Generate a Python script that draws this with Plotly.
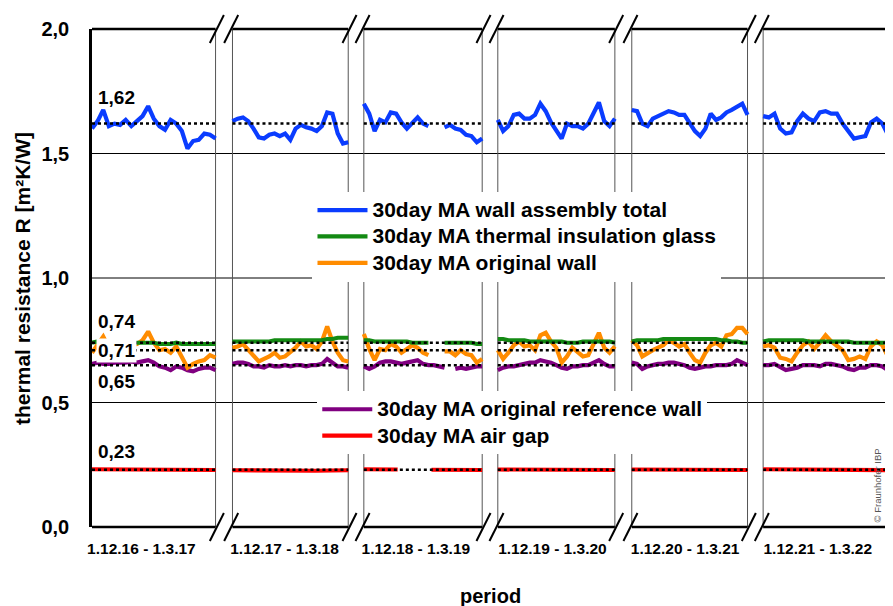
import plotly.graph_objects as go

# winter periods (one panel each)
periods = ["1.12.16 - 1.3.17", "1.12.17 - 1.3.18", "1.12.18 - 1.3.19",
           "1.12.19 - 1.3.20", "1.12.20 - 1.3.21", "1.12.21 - 1.3.22"]

# panel extent on a continuous day axis (breaks between the winters)
panel_start = [0, 108, 209, 312, 415, 516]
panel_end = [95, 197, 300, 402, 504, 612]
label_pos = [38, 148, 249, 354, 456, 558]

# 30 day moving averages, R in m²K/W, read per panel
wall_total = [
    [1.60, 1.63, 1.675, 1.61, 1.62, 1.615, 1.635, 1.61, 1.63, 1.65, 1.69, 1.64,
     1.61, 1.595, 1.635, 1.62, 1.59, 1.52, 1.55, 1.555, 1.58, 1.575, 1.56],
    [1.63, 1.64, 1.645, 1.63, 1.60, 1.565, 1.56, 1.575, 1.58, 1.57, 1.58, 1.555,
     1.60, 1.615, 1.605, 1.60, 1.59, 1.61, 1.665, 1.66, 1.58, 1.54, 1.545],
    [1.70, 1.66, 1.59, 1.635, 1.625, 1.665, 1.66, 1.625, 1.60, 1.625, 1.645, 1.62,
     1.61, None, None, 1.605, 1.615, 1.60, 1.595, 1.575, 1.57, 1.545, 1.56],
    [1.635, 1.59, 1.61, 1.655, 1.66, 1.64, 1.64, 1.655, 1.70, 1.67, 1.625, 1.59,
     1.56, 1.62, 1.61, 1.61, 1.60, 1.62, 1.66, 1.705, 1.63, 1.61, 1.64],
    [1.675, 1.67, 1.62, 1.61, 1.64, 1.65, 1.66, 1.67, 1.665, 1.655, 1.655, 1.62,
     1.59, 1.57, 1.60, 1.66, 1.635, 1.645, 1.665, 1.675, 1.69, 1.70, 1.655],
    [1.65, 1.645, 1.66, 1.60, 1.58, 1.585, 1.63, 1.66, 1.64, 1.63, 1.665, 1.67,
     1.66, 1.66, 1.62, 1.59, 1.56, 1.565, 1.57, 1.625, 1.64, 1.62, 1.575],
]
insulation_glass = [
    [0.74, 0.745, 0.735, 0.74, 0.74, 0.74, 0.74, 0.74, 0.74, 0.74, 0.74, 0.74,
     0.735, 0.735, 0.735, 0.74, 0.735, 0.735, 0.735, 0.735, 0.735, 0.735, 0.735],
    [0.745, 0.745, 0.745, 0.745, 0.745, 0.745, 0.745, 0.745, 0.75, 0.75, 0.75, 0.75,
     0.75, 0.75, 0.75, 0.75, 0.75, 0.75, 0.755, 0.755, 0.76, 0.76, 0.76],
    [0.75, 0.75, 0.745, 0.745, 0.745, 0.745, 0.745, 0.745, 0.745, 0.74, 0.74, 0.74,
     0.74, None, None, 0.74, 0.74, 0.74, 0.74, 0.74, 0.74, 0.735, 0.735],
    [0.755, 0.755, 0.75, 0.75, 0.75, 0.75, 0.745, 0.745, 0.745, 0.745, 0.745, 0.745,
     0.745, 0.74, 0.74, 0.74, 0.745, 0.745, 0.745, 0.745, 0.745, 0.745, 0.74],
    [0.745, 0.75, 0.75, 0.75, 0.75, 0.75, 0.755, 0.755, 0.755, 0.755, 0.755, 0.755,
     0.755, 0.755, 0.755, 0.755, 0.755, 0.75, 0.75, 0.745, 0.745, 0.74, 0.74],
    [0.745, 0.75, 0.75, 0.75, 0.75, 0.75, 0.75, 0.75, 0.745, 0.745, 0.745, 0.745,
     0.745, 0.745, 0.745, 0.745, 0.74, 0.74, 0.74, 0.74, 0.74, 0.74, 0.74],
]
original_wall = [
    [0.70, 0.73, 0.765, 0.72, 0.71, 0.72, 0.73, 0.73, 0.735, 0.75, 0.785, 0.74,
     0.71, 0.715, 0.70, 0.725, 0.68, 0.64, 0.655, 0.665, 0.67, 0.69, 0.68],
    [0.72, 0.725, 0.735, 0.71, 0.69, 0.665, 0.675, 0.685, 0.70, 0.68, 0.685, 0.70,
     0.72, 0.745, 0.725, 0.73, 0.715, 0.745, 0.805, 0.745, 0.70, 0.67, 0.665],
    [0.775, 0.715, 0.67, 0.715, 0.71, 0.735, 0.725, 0.70, 0.715, 0.73, 0.72, 0.70,
     0.69, None, None, 0.705, 0.705, 0.69, 0.71, 0.695, 0.69, 0.66, 0.675],
    [0.71, 0.675, 0.70, 0.73, 0.745, 0.725, 0.73, 0.71, 0.77, 0.78, 0.745, 0.72,
     0.66, 0.685, 0.72, 0.70, 0.685, 0.69, 0.735, 0.78, 0.72, 0.70, 0.725],
    [0.75, 0.73, 0.685, 0.70, 0.71, 0.72, 0.73, 0.75, 0.74, 0.725, 0.735, 0.70,
     0.67, 0.66, 0.70, 0.73, 0.74, 0.725, 0.77, 0.775, 0.80, 0.80, 0.775],
    [0.725, 0.73, 0.72, 0.68, 0.675, 0.665, 0.70, 0.73, 0.745, 0.715, 0.74, 0.77,
     0.745, 0.73, 0.71, 0.67, 0.675, 0.685, 0.675, 0.725, 0.745, 0.73, 0.685],
]
reference_wall = [
    [0.655, 0.66, 0.655, 0.655, 0.66, 0.66, 0.66, 0.665, 0.66, 0.665, 0.67, 0.66,
     0.645, 0.64, 0.63, 0.645, 0.64, 0.63, 0.625, 0.635, 0.64, 0.64, 0.63],
    [0.655, 0.66, 0.66, 0.655, 0.645, 0.645, 0.64, 0.65, 0.645, 0.645, 0.65, 0.645,
     0.65, 0.65, 0.645, 0.65, 0.65, 0.655, 0.675, 0.66, 0.645, 0.645, 0.64],
    [0.645, 0.635, 0.645, 0.66, 0.665, 0.665, 0.66, 0.655, 0.66, 0.665, 0.67, 0.655,
     0.65, 0.65, 0.645, 0.64, None, 0.635, 0.64, 0.635, 0.64, 0.645, 0.645],
    [0.63, 0.64, 0.645, 0.645, 0.65, 0.655, 0.66, 0.66, 0.67, 0.665, 0.66, 0.65,
     0.64, 0.635, 0.645, 0.645, 0.65, 0.65, 0.66, 0.67, 0.655, 0.645, 0.645],
    [0.66, 0.655, 0.635, 0.645, 0.65, 0.655, 0.655, 0.66, 0.66, 0.655, 0.65, 0.64,
     0.635, 0.64, 0.645, 0.645, 0.65, 0.65, 0.65, 0.655, 0.67, 0.66, 0.65],
    [0.65, 0.65, 0.655, 0.64, 0.63, 0.635, 0.64, 0.65, 0.65, 0.65, 0.645, 0.655,
     0.655, 0.65, 0.645, 0.635, 0.63, 0.64, 0.64, 0.65, 0.65, 0.645, 0.63],
]
air_gap = [
    [0.232, 0.232, 0.231, 0.231, 0.23, 0.23, 0.229, 0.229],
    [0.228, 0.227, 0.226, 0.225, 0.225, 0.226, 0.227, 0.228],
    [0.232, 0.232, 0.231, None, 0.23, 0.23, 0.229, 0.229],
    [0.231, 0.231, 0.231, 0.23, 0.23, 0.23, 0.229, 0.229],
    [0.231, 0.231, 0.23, 0.23, 0.23, 0.23, 0.229, 0.229],
    [0.232, 0.232, 0.231, 0.23, 0.23, 0.229, 0.229, 0.228],
]

# long-term means (dotted)
mean_values = [1.62, 0.74, 0.71, 0.65, 0.23]
mean_labels = ["1,62", "0,74", "0,71", "0,65", "0,23"]
label_shift = [26, 21, 0, -16, 18]


def panel_xy(panels):
    xs, ys = [], []
    for k, vals in enumerate(panels):
        n = len(vals)
        w = panel_end[k] - panel_start[k]
        xs += [panel_start[k] + w * i / (n - 1) for i in range(n)] + [None]
        ys += list(vals) + [None]
    return xs, ys


series = [
    # name, data, colour, legend, rank
    ("30day MA air gap", air_gap, "#ff0000", "legend2", 2),
    ("30day MA original reference wall", reference_wall, "#800080", "legend2", 1),
    ("30day MA original wall", original_wall, "#ff8c00", "legend", 3),
    ("30day MA thermal insulation glass", insulation_glass, "#138a13", "legend", 2),
    ("30day MA wall assembly total", wall_total, "#0a3cff", "legend", 1),
]

fig = go.Figure()

for name, data, color, leg, rank in series:
    xs, ys = panel_xy(data)
    fig.add_trace(go.Scatter(
        x=xs, y=ys, mode="lines",
        name='<span style="font-size:21px">%s</span>' % name,
        line=dict(color=color, width=4.2),
        legend=leg, legendrank=rank, connectgaps=False,
    ))

# dotted mean lines per panel
for m in mean_values:
    xs, ys = [], []
    for k in range(len(periods)):
        xs += [panel_start[k], panel_end[k], None]
        ys += [m, m, None]
    fig.add_trace(go.Scatter(x=xs, y=ys, mode="lines", showlegend=False,
                             line=dict(color="black", width=2.5, dash="3px,3px"),
                             hoverinfo="skip"))

shapes = []
# horizontal gridlines
for g in [0.5, 1.0, 1.5]:
    shapes.append(dict(type="line", xref="paper", yref="y", x0=0, x1=1, y0=g, y1=g,
                       line=dict(color="black", width=1), layer="below"))
# panel borders
for k in range(len(periods) - 1):
    for xv in [panel_end[k], panel_start[k + 1]]:
        shapes.append(dict(type="line", xref="x", yref="paper", x0=xv, x1=xv, y0=0, y1=1,
                           line=dict(color="#555555", width=1), layer="below"))
# broken top / bottom axis
for yb in [0, 1]:
    for k in range(len(periods)):
        shapes.append(dict(type="line", xref="x", yref="paper",
                           x0=panel_start[k], x1=panel_end[k], y0=yb, y1=yb,
                           line=dict(color="black", width=2.5)))
    for k in range(len(periods) - 1):
        for c in [panel_end[k] + 1, panel_start[k + 1] - 1]:
            shapes.append(dict(type="line", xref="x", yref="paper",
                               x0=c - 5.4, x1=c + 5.4, y0=yb - 0.028, y1=yb + 0.028,
                               line=dict(color="black", width=2)))

annotations = []
for m, lab, sh in zip(mean_values, mean_labels, label_shift):
    annotations.append(dict(x=19, y=m, xref="x", yref="y", text="<b>%s</b>" % lab,
                            showarrow=False, yshift=sh,
                            bgcolor="white" if sh == 0 else None,
                            font=dict(size=19, color="black")))
annotations.append(dict(x=0.9874, y=0.005, xref="paper", yref="paper",
                        text="© Fraunhofer IBP", showarrow=False, textangle=-90,
                        xanchor="center", yanchor="bottom",
                        font=dict(size=9.5, color="#555555")))
# axis titles
annotations.append(dict(x=-0.088, y=0.5, xref="paper", yref="paper",
                        text="<b>thermal resistance R [m²K/W]</b>", showarrow=False,
                        textangle=-90, xanchor="center", yanchor="middle",
                        font=dict(size=21)))
annotations.append(dict(x=0.5, y=-0.1386, xref="paper", yref="paper",
                        text="<b>period</b>", showarrow=False,
                        xanchor="center", yanchor="middle", font=dict(size=20)))

# page body has an 8px margin, so the figure is shrunk by that much
fig.update_layout(
    width=885, height=598,
    margin=dict(l=84, r=5, t=21, b=79),
    paper_bgcolor="white", plot_bgcolor="white",
    font=dict(family="Liberation Sans, Arial, sans-serif", color="black"),
    shapes=shapes, annotations=annotations,
    showlegend=True,
    legend=dict(x=0.277, y=0.673, xanchor="left", yanchor="top",
                bgcolor="white", borderwidth=0, tracegroupgap=0, itemwidth=50,
                font=dict(size=18, weight="bold")),
    legend2=dict(x=0.283, y=0.273, xanchor="left", yanchor="top",
                 bgcolor="white", borderwidth=0, tracegroupgap=0, itemwidth=50,
                 font=dict(size=18, weight="bold")),
)

fig.update_xaxes(
    range=[0, panel_end[-1]], showgrid=False, zeroline=False, showline=False,
    automargin=False,
    tickvals=label_pos, ticktext=["<b>%s</b>" % p for p in periods],
    tickfont=dict(size=15.5), ticks="", ticklabelstandoff=10,
)
fig.update_yaxes(
    range=[0, 2.0], showgrid=False, zeroline=False, automargin=False,
    showline=True, mirror=True, linecolor="black", linewidth=2.5,
    tickvals=[0, 0.5, 1.0, 1.5, 2.0],
    ticktext=["<b>0,0</b>", "<b>0,5</b>", "<b>1,0</b>", "<b>1,5</b>", "<b>2,0</b>"],
    tickfont=dict(size=20), ticks="", ticklabelstandoff=16,
)

fig.write_html("out.html")
